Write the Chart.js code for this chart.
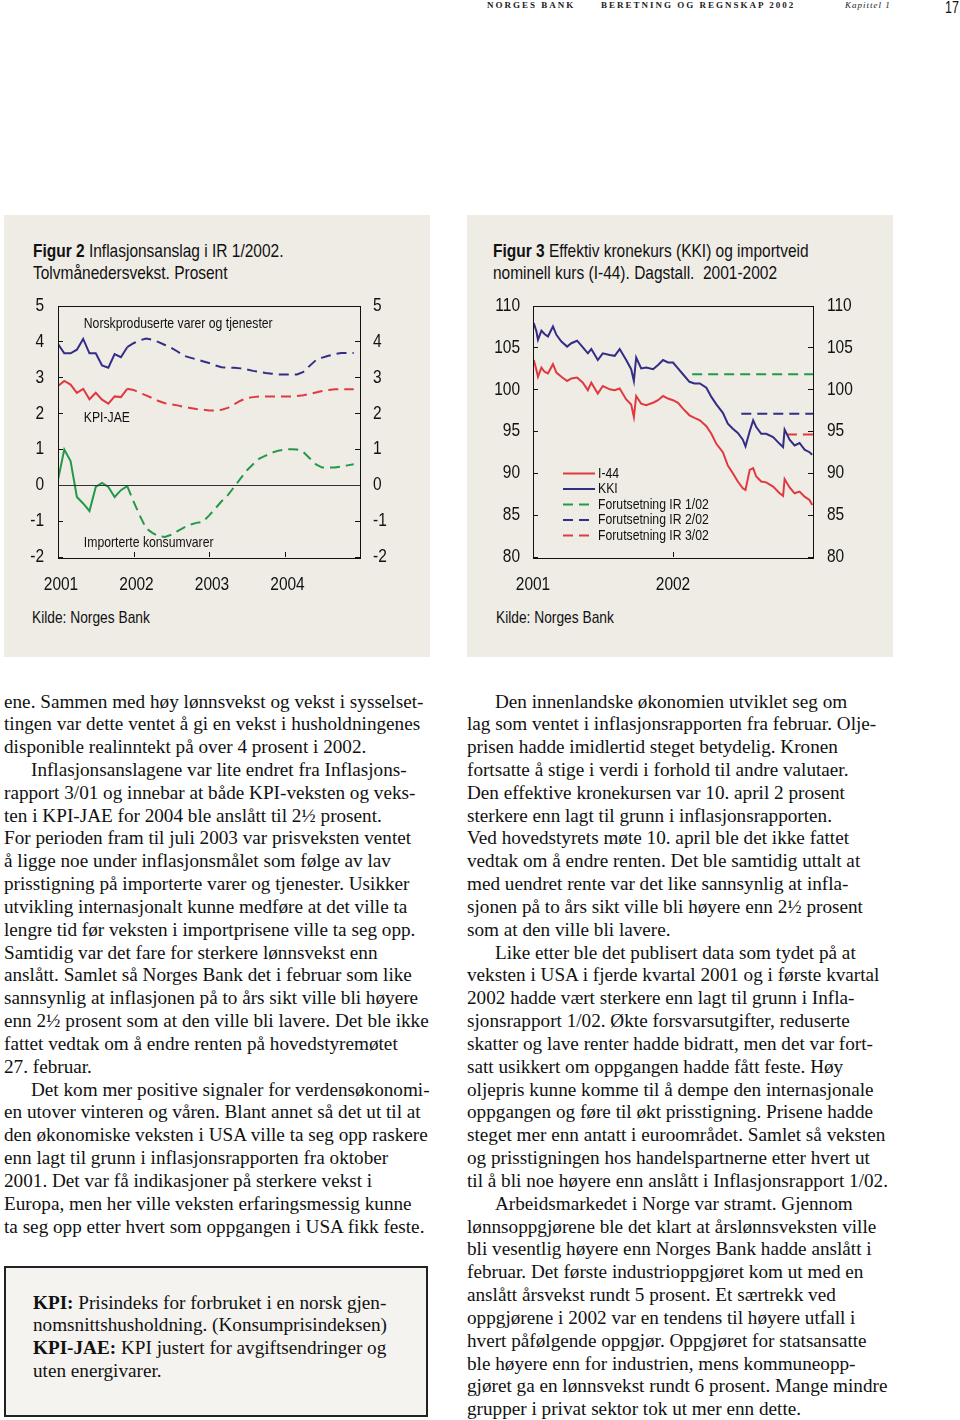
<!DOCTYPE html>
<html>
<head>
<meta charset="utf-8">
<script src="https://cdn.jsdelivr.net/npm/chart.js@4.4.1/dist/chart.umd.min.js"></script>
<style>
body { margin: 0; width: 960px; height: 1420px; background: #fff; position: relative; overflow: hidden;
       font-family: "Liberation Serif", "Times New Roman", serif; color: #111; }
.hdr { position: absolute; top: 0; font: bold 9px/11px "Liberation Serif", serif; letter-spacing: 2px; color: #222; }
.pg { position: absolute; top: 0; left: 945px; font: 16px/16px "Liberation Sans", Arial, sans-serif;
      transform: scaleX(0.78); transform-origin: 0 0; }
.panel { position: absolute; top: 215px; width: 426px; height: 442px; background: #efece6; }
.ttl { position: absolute; top: 25px; font: 19px/22px "Liberation Sans", Arial, sans-serif; color: #111;
       white-space: nowrap; transform: scaleX(0.815); transform-origin: 0 0; }
.src { position: absolute; top: 393px; font: 17px/20px "Liberation Sans", Arial, sans-serif; white-space: nowrap;
       transform: scaleX(0.81); transform-origin: 0 0; }
.panel canvas { position: absolute; left: 0; top: 75px; }
.col { position: absolute; top: 690.5px; font-size: 19.2px; line-height: 22.83px; }
.col div { white-space: nowrap; height: 22.83px; }
.col .in { padding-left: 27px; }
.box { position: absolute; left: 4px; top: 1266px; width: 420px; height: 147px; border: 2px solid #222; background: #f5f3ef; }
.box .txt { position: absolute; left: 27px; top: 23.5px; font-size: 19.2px; line-height: 22.83px; white-space: nowrap; }
</style>
</head>
<body>
<div class="hdr" style="left:487px">NORGES BANK</div>
<div class="hdr" style="left:601px">BERETNING OG REGNSKAP 2002</div>
<div class="hdr" style="left:845px;font-weight:normal;font-style:italic;letter-spacing:1px">Kapittel 1</div>
<div class="pg">17</div>

<div class="panel" style="left:4px">
  <div class="ttl" style="left:29px"><b>Figur 2</b> Inflasjonsanslag i IR 1/2002.<br>Tolvmånedersvekst. Prosent</div>
  <canvas id="fig2" width="426" height="310"></canvas>
  <div class="src" style="left:28px">Kilde: Norges Bank</div>
</div>

<div class="panel" style="left:467px">
  <div class="ttl" style="left:26px"><b>Figur 3</b> Effektiv kronekurs (KKI) og importveid<br>nominell kurs (I-44). Dagstall.&nbsp; 2001-2002</div>
  <canvas id="fig3" width="426" height="310"></canvas>
  <div class="src" style="left:29px">Kilde: Norges Bank</div>
</div>

<div class="col" style="left:4px">
<div>ene. Sammen med høy lønnsvekst og vekst i sysselset-</div>
<div>tingen var dette ventet å gi en vekst i husholdningenes</div>
<div>disponible realinntekt på over 4 prosent i 2002.</div>
<div class="in">Inflasjonsanslagene var lite endret fra Inflasjons-</div>
<div>rapport 3/01 og innebar at både KPI-veksten og veks-</div>
<div>ten i KPI-JAE for 2004 ble anslått til 2½ prosent.</div>
<div>For perioden fram til juli 2003 var prisveksten ventet</div>
<div>å ligge noe under inflasjonsmålet som følge av lav</div>
<div>prisstigning på importerte varer og tjenester. Usikker</div>
<div>utvikling internasjonalt kunne medføre at det ville ta</div>
<div>lengre tid før veksten i importprisene ville ta seg opp.</div>
<div>Samtidig var det fare for sterkere lønnsvekst enn</div>
<div>anslått. Samlet så Norges Bank det i februar som like</div>
<div>sannsynlig at inflasjonen på to års sikt ville bli høyere</div>
<div>enn 2½ prosent som at den ville bli lavere. Det ble ikke</div>
<div>fattet vedtak om å endre renten på hovedstyremøtet</div>
<div>27. februar.</div>
<div class="in">Det kom mer positive signaler for verdensøkonomi-</div>
<div>en utover vinteren og våren. Blant annet så det ut til at</div>
<div>den økonomiske veksten i USA ville ta seg opp raskere</div>
<div>enn lagt til grunn i inflasjonsrapporten fra oktober</div>
<div>2001. Det var få indikasjoner på sterkere vekst i</div>
<div>Europa, men her ville veksten erfaringsmessig kunne</div>
<div>ta seg opp etter hvert som oppgangen i USA fikk feste.</div>
</div>

<div class="col" style="left:467px">
<div class="in" style="padding-left:28px">Den innenlandske økonomien utviklet seg om</div>
<div>lag som ventet i inflasjonsrapporten fra februar. Olje-</div>
<div>prisen hadde imidlertid steget betydelig. Kronen</div>
<div>fortsatte å stige i verdi i forhold til andre valutaer.</div>
<div>Den effektive kronekursen var 10. april 2 prosent</div>
<div>sterkere enn lagt til grunn i inflasjonsrapporten.</div>
<div>Ved hovedstyrets møte 10. april ble det ikke fattet</div>
<div>vedtak om å endre renten. Det ble samtidig uttalt at</div>
<div>med uendret rente var det like sannsynlig at infla-</div>
<div>sjonen på to års sikt ville bli høyere enn 2½ prosent</div>
<div>som at den ville bli lavere.</div>
<div class="in" style="padding-left:28px">Like etter ble det publisert data som tydet på at</div>
<div>veksten i USA i fjerde kvartal 2001 og i første kvartal</div>
<div>2002 hadde vært sterkere enn lagt til grunn i Infla-</div>
<div>sjonsrapport 1/02. Økte forsvarsutgifter, reduserte</div>
<div>skatter og lave renter hadde bidratt, men det var fort-</div>
<div>satt usikkert om oppgangen hadde fått feste. Høy</div>
<div>oljepris kunne komme til å dempe den internasjonale</div>
<div>oppgangen og føre til økt prisstigning. Prisene hadde</div>
<div>steget mer enn antatt i euroområdet. Samlet så veksten</div>
<div>og prisstigningen hos handelspartnerne etter hvert ut</div>
<div>til å bli noe høyere enn anslått i Inflasjonsrapport 1/02.</div>
<div class="in" style="padding-left:28px">Arbeidsmarkedet i Norge var stramt. Gjennom</div>
<div>lønnsoppgjørene ble det klart at årslønnsveksten ville</div>
<div>bli vesentlig høyere enn Norges Bank hadde anslått i</div>
<div>februar. Det første industrioppgjøret kom ut med en</div>
<div>anslått årsvekst rundt 5 prosent. Et særtrekk ved</div>
<div>oppgjørene i 2002 var en tendens til høyere utfall i</div>
<div>hvert påfølgende oppgjør. Oppgjøret for statsansatte</div>
<div>ble høyere enn for industrien, mens kommuneopp-</div>
<div>gjøret ga en lønnsvekst rundt 6 prosent. Mange mindre</div>
<div>grupper i privat sektor tok ut mer enn dette.</div>
</div>

<div class="box"><div class="txt">
<b>KPI:</b> Prisindeks for forbruket i en norsk gjen-<br>
nomsnittshusholdning. (Konsumprisindeksen)<br>
<b>KPI-JAE:</b> KPI justert for avgiftsendringer og<br>
uten energivarer.
</div></div>

<script>
// ---- Figur 2: monthly, Jan 2001 = 0 ----
var yearLabels2 = ['2001', '2002', '2003', '2004'];
var firstForecastMonth = 11;   // last actual month, forecasts connect here

var norskActual = [3.93, 3.67, 3.67, 3.77, 4.07, 3.67, 3.67, 3.33, 3.27, 3.65, 3.56, 3.84];
var norskForecast = [3.84, 3.95, 4.03, 4.08, 4.05, 3.98, 3.9, 3.82, 3.72, 3.6, 3.55, 3.5, 3.45, 3.4, 3.33, 3.28,
    3.27, 3.27, 3.25, 3.22, 3.18, 3.15, 3.12, 3.1, 3.08, 3.08, 3.08, 3.08, 3.15, 3.32, 3.48, 3.55, 3.6, 3.65,
    3.68, 3.68, 3.68];

var jaeActual = [2.76, 2.9, 2.8, 2.57, 2.68, 2.39, 2.57, 2.38, 2.27, 2.47, 2.45, 2.68];
var jaeForecast = [2.68, 2.65, 2.57, 2.5, 2.42, 2.34, 2.28, 2.25, 2.22, 2.18, 2.15, 2.12, 2.1, 2.08, 2.08, 2.1,
    2.15, 2.25, 2.35, 2.42, 2.45, 2.47, 2.47, 2.47, 2.47, 2.47, 2.47, 2.48, 2.5, 2.54, 2.58, 2.62, 2.65, 2.67,
    2.67, 2.67, 2.67];

var importActual = [0.15, 0.99, 0.67, -0.33, -0.51, -0.72, -0.05, 0.06, -0.05, -0.33, -0.14, -0.03];
var importForecast = [-0.03, -0.45, -0.85, -1.2, -1.33, -1.42, -1.44, -1.38, -1.28, -1.18, -1.1, -1.05, -1.02,
    -0.85, -0.65, -0.45, -0.28, -0.05, 0.18, 0.41, 0.58, 0.74, 0.82, 0.9, 0.96, 0.99, 1.0, 0.99, 0.92, 0.75,
    0.58, 0.49, 0.49, 0.49, 0.52, 0.55, 0.58];

var yearLabels3 = ['2001', '2002'];
var fxDays = [2, 9, 13, 22, 30, 39, 52, 61, 74, 89, 100, 115, 130, 143, 152, 169, 182, 200, 213, 226,
    243, 256, 263, 269, 282, 295, 313, 326, 339, 352, 365, 378, 391, 408, 421, 435, 452, 465, 478, 495,
    508, 521, 534, 547, 554, 565, 574, 582, 595, 608, 626, 643, 652, 656, 669, 682, 695, 708, 721, 728];
var kki = [107.9, 106.9, 105.9, 107.0, 106.6, 106.3, 107.5, 106.5, 105.7, 105.1, 105.5, 105.8, 105.0, 104.3,
    104.8, 103.5, 104.3, 104.1, 104.0, 104.8, 103.5, 102.4, 101.0, 103.8, 102.5, 102.6, 102.4, 102.9, 103.5,
    103.2, 103.2, 102.5, 101.8, 100.9, 100.7, 100.7, 100.2, 99.1, 98.2, 97.2, 95.9, 95.3, 94.8, 94.0, 93.2,
    95.0, 96.3, 95.5, 94.7, 94.7, 94.3, 93.5, 93.1, 95.2, 94.0, 93.3, 93.6, 92.8, 92.5, 92.2];
var i44 = [103.5, 102.3, 101.5, 102.6, 102.1, 101.9, 103.0, 102.0, 101.5, 101.0, 101.3, 101.4, 100.8, 99.9,
    100.8, 99.5, 100.4, 100.0, 99.9, 100.1, 98.8, 98.2, 96.7, 99.2, 98.3, 98.1, 98.4, 98.7, 99.2, 98.9, 98.7,
    98.4, 97.7, 96.9, 96.6, 96.3, 95.6, 94.7, 93.5, 92.5, 90.9, 90.0, 89.0, 88.2, 88.0, 90.4, 90.6, 89.6,
    89.0, 88.9, 88.4, 87.6, 87.3, 89.3, 88.3, 87.6, 87.8, 87.2, 86.8, 86.2];
var irNames = ['Forutsetning IR 1/02', 'Forutsetning IR 2/02', 'Forutsetning IR 3/02'];
var irStartDay = [415, 543, 662];
var irLevel = [101.8, 97.1, 94.6];
var lastDay = 730;

var RED = '#df3a3f', BLUE = '#332d86', GREEN = '#22994a';
var SANS = '"Liberation Sans", Arial, sans-serif';
var SQUEEZE = 0.815;   // no narrow face installed, so squeeze Liberation Sans

Chart.defaults.font.family = SANS;
Chart.defaults.color = '#111';

function series(values, offset) {
    return values.map(function (v, i) { return { x: i + offset, y: v }; });
}

function narrowText(ctx, text, x, y, align, size) {
    ctx.save();
    ctx.font = size + 'px ' + SANS;
    ctx.textAlign = align;
    ctx.textBaseline = 'middle';
    ctx.translate(x, y);
    ctx.scale(SQUEEZE, 1);
    ctx.fillText(text, 0, 0);
    ctx.restore();
}

// frame, inner tick marks, tick labels, zero line and text labels
var frame = {
    id: 'frame',
    afterDatasetsDraw: function (chart, args, opts) {
        var ctx = chart.ctx, a = chart.chartArea, sx = chart.scales.x, sy = chart.scales.y, sy2 = chart.scales.y2;
        ctx.save();
        ctx.strokeStyle = '#111';
        ctx.lineWidth = 1;
        ctx.beginPath();
        sy.ticks.forEach(function (t) {
            var y = Math.round(sy.getPixelForValue(t.value)) + 0.5;
            ctx.moveTo(a.left, y); ctx.lineTo(a.left + 5, y);
            ctx.moveTo(a.right - 5, y); ctx.lineTo(a.right, y);
        });
        opts.xTicks.forEach(function (v) {
            var x = Math.round(sx.getPixelForValue(v)) + 0.5;
            ctx.moveTo(x, a.bottom); ctx.lineTo(x, a.bottom - 5);
        });
        ctx.stroke();
        if (opts.zero) {
            var z = Math.round(sy.getPixelForValue(0)) + 0.5;
            ctx.strokeStyle = '#333';
            ctx.beginPath(); ctx.moveTo(a.left, z); ctx.lineTo(a.right, z); ctx.stroke();
        }
        ctx.strokeStyle = '#111';
        ctx.strokeRect(Math.round(a.left) + 0.5, Math.round(a.top) + 0.5,
            Math.round(a.right - a.left), Math.round(a.bottom - a.top));

        ctx.fillStyle = '#111';
        sy.ticks.forEach(function (t) {
            narrowText(ctx, String(t.value), a.left - opts.padL, sy.getPixelForValue(t.value), 'right', 19);
        });
        sy2.ticks.forEach(function (t) {
            narrowText(ctx, String(t.value), a.right + opts.padR, sy2.getPixelForValue(t.value), 'left', 19);
        });
        sx.ticks.forEach(function (t, i) {
            var lab = opts.xLabels[i];
            if (lab) narrowText(ctx, lab, sx.getPixelForValue(t.value) + opts.xShift, a.bottom + 28, 'center', 19);
        });
        (opts.notes || []).forEach(function (n) {
            narrowText(ctx, n.text, sx.getPixelForValue(n.x), sy.getPixelForValue(n.y), 'left', 15);
        });
        if (opts.legend) {
            var lg = opts.legend;
            chart.data.datasets.forEach(function (ds, i) {
                var y = a.top + lg.top + i * lg.step;
                ctx.strokeStyle = ds.borderColor;
                ctx.lineWidth = 2;
                ctx.setLineDash(ds.borderDash || []);
                ctx.beginPath();
                ctx.moveTo(a.left + lg.left, y); ctx.lineTo(a.left + lg.left + 32, y);
                ctx.stroke();
                ctx.setLineDash([]);
                narrowText(ctx, ds.label, a.left + lg.left + 35, y, 'left', 15);
            });
        }
        ctx.restore();
    }
};

function yAxes(min, max, step, leftW, rightW) {
    return {
        y: {
            min: min, max: max, position: 'left',
            grid: { display: false, drawTicks: false }, border: { display: false },
            ticks: { stepSize: step, display: false },
            afterFit: function (s) { s.width = leftW; }
        },
        y2: {
            min: min, max: max, position: 'right',
            grid: { display: false, drawTicks: false }, border: { display: false },
            ticks: { stepSize: step, display: false },
            afterFit: function (s) { s.width = rightW; }
        }
    };
}

var scales2 = yAxes(-2, 5, 1, 54, 70);
scales2.x = {
    type: 'linear', min: 0, max: 48,
    grid: { display: false, drawTicks: false }, border: { display: false },
    afterBuildTicks: function (s) { s.ticks = [0, 12, 24, 36].map(function (v) { return { value: v }; }); },
    ticks: { display: false },
    afterFit: function (s) { s.height = 43; }
};

var solid = { borderWidth: 2, pointRadius: 0, tension: 0, fill: false };
function line(label, data, color, dashed) {
    return Object.assign({ label: label, data: data, borderColor: color, backgroundColor: color,
        borderDash: dashed ? [10, 6] : [] }, solid);
}

new Chart(document.getElementById('fig2'), {
    type: 'line',
    data: {
        datasets: [
            line('Norskproduserte varer og tjenester', series(norskActual, 0), BLUE, false),
            line('Norskproduserte varer og tjenester, anslag', series(norskForecast, firstForecastMonth), BLUE, true),
            line('KPI-JAE', series(jaeActual, 0), RED, false),
            line('KPI-JAE, anslag', series(jaeForecast, firstForecastMonth), RED, true),
            line('Importerte konsumvarer', series(importActual, 0), GREEN, false),
            line('Importerte konsumvarer, anslag', series(importForecast, firstForecastMonth), GREEN, true)
        ]
    },
    options: {
        responsive: false, animation: false, devicePixelRatio: 1,
        layout: { padding: { top: 15.5, left: 0, right: 0, bottom: 0 } },
        scales: scales2,
        plugins: {
            legend: { display: false }, tooltip: { enabled: false },
            frame: {
                xTicks: [12, 24, 36], zero: true, padL: 14, padR: 13,
                xLabels: yearLabels2, xShift: 3,
                notes: [
                    { text: 'Norskproduserte varer og tjenester', x: 4.1, y: 4.5 },
                    { text: 'KPI-JAE', x: 4.1, y: 1.86 },
                    { text: 'Importerte konsumvarer', x: 4.1, y: -1.6 }
                ]
            }
        }
    },
    plugins: [frame]
});

var scales3 = yAxes(80, 110, 5, 66, 80);
scales3.x = {
    type: 'linear', min: 0, max: lastDay,
    grid: { display: false, drawTicks: false }, border: { display: false },
    afterBuildTicks: function (s) { s.ticks = [0, 365].map(function (v) { return { value: v }; }); },
    ticks: { display: false },
    afterFit: function (s) { s.height = 43; }
};

function pairs(days, vals) {
    return days.map(function (d, i) { return { x: d, y: vals[i] }; });
}
function flat(i) {
    return [{ x: irStartDay[i], y: irLevel[i] }, { x: lastDay, y: irLevel[i] }];
}

new Chart(document.getElementById('fig3'), {
    type: 'line',
    data: {
        datasets: [
            line('I-44', pairs(fxDays, i44), RED, false),
            line('KKI', pairs(fxDays, kki), BLUE, false),
            line(irNames[0], flat(0), GREEN, true),
            line(irNames[1], flat(1), BLUE, true),
            line(irNames[2], flat(2), RED, true)
        ]
    },
    options: {
        responsive: false, animation: false, devicePixelRatio: 1,
        layout: { padding: { top: 15.5, left: 0, right: 0, bottom: 0 } },
        scales: scales3,
        plugins: {
            legend: { display: false }, tooltip: { enabled: false },
            frame: {
                xTicks: [365], zero: false, padL: 13, padR: 14,
                xLabels: yearLabels3, xShift: 0,
                legend: { left: 30, top: 168, step: 15.5 }
            }
        }
    },
    plugins: [frame]
});
</script>
</body>
</html>
